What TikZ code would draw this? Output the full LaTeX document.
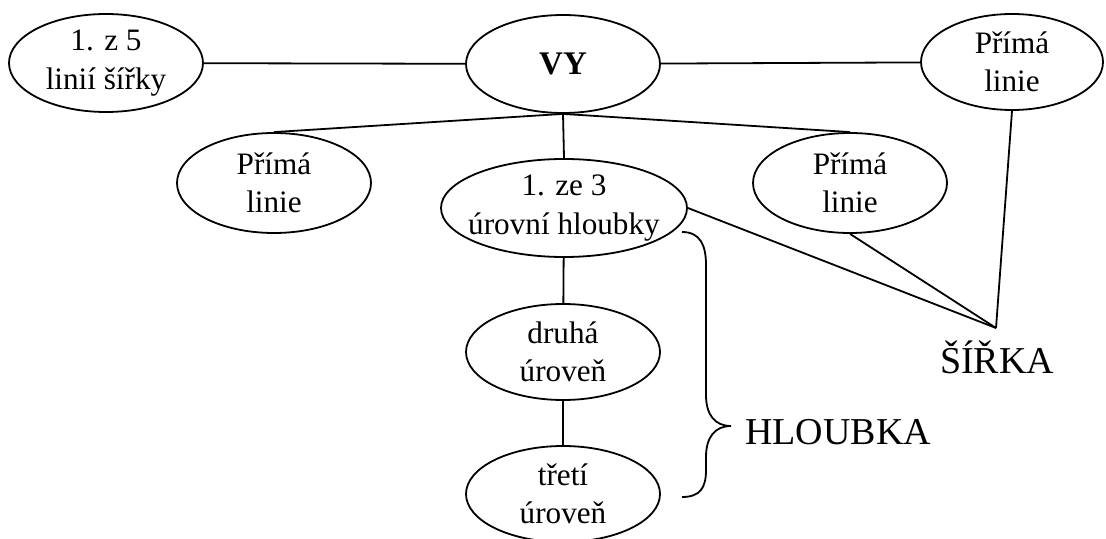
\documentclass[tikz,border=0pt]{standalone}
\usepackage{fontspec}
\setmainfont{Liberation Serif}
\usetikzlibrary{shapes.geometric}
\tikzset{
  pojem/.style={draw, ellipse, align=center, inner sep=0pt,
    minimum width=97pt, minimum height=49pt,
    font=\fontsize{15.6}{19.2}\selectfont},
  popis/.style={anchor=base, font=\fontsize{19}{22}\selectfont},
}
\begin{document}
\begin{tikzpicture}[x=0.5pt, y=-0.5pt, line width=0.9pt]
    \useasboundingbox (0,0) rectangle (1106,539);
    % horni rada
    \node[pojem] (linie5) at (106,63) {1. z 5\\linií šířky};
    \node[pojem, font=\bfseries\fontsize{16.5}{19}\selectfont] (vy) at (563,64) {VY};
    \node[pojem, minimum width=91pt, minimum height=48pt] (primaP) at (1012,62) {Přímá\\linie};
    % druha rada
    \node[pojem, minimum height=50pt] (primaL) at (274,183) {Přímá\\linie};
    \node[pojem, minimum width=123pt, inner xsep=-7pt, inner ysep=-2pt] (uroven1) at (564,208) {1. ze 3\\úrovní hloubky};
    \node[pojem, minimum height=50pt] (primaS) at (850,183) {Přímá\\linie};
    % hloubka
    \node[pojem, minimum height=48pt] (uroven2) at (563,352) {druhá\\úroveň};
    \node[pojem, minimum height=48pt] (uroven3) at (563,494) {třetí\\úroveň};
    % popisky
    \coordinate (sirka) at (996,328);
    \node[popis] (sirkaT) at (997,373) {ŠÍŘKA};
    \node[popis] (hloubkaT) at (838,444) {HLOUBKA};

    \draw (linie5) -- (vy); \draw (vy) -- (primaP);
    \draw (vy.south) -- (primaL.north);
    \draw (vy.south) -- (uroven1.north);
    \draw (vy.south) -- (primaS.north);
    \draw (uroven1) -- (uroven2); \draw (uroven2) -- (uroven3);
    \draw (uroven1.east) -- (sirka);
    \draw (primaS.south) -- (sirka);
    \draw (primaP.south) -- (sirka);
    % slozena zavorka
    \draw (682,232) .. controls (700,232) and (706,245) .. (706,265) -- (706,395)
        .. controls (706,415) and (715,426) .. (731,426)
        .. controls (715,426) and (706,437) .. (706,457) -- (706,470)
        .. controls (706,488) and (700,497) .. (682,497);
\end{tikzpicture}
\end{document}
